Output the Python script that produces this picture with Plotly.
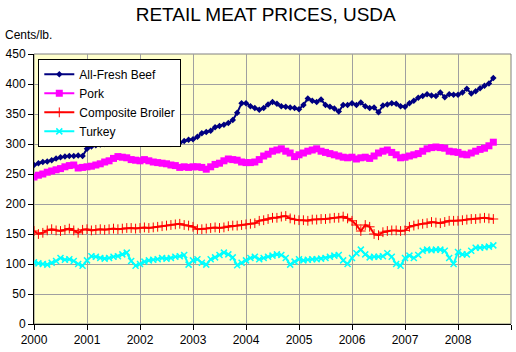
import plotly.graph_objects as go

start_year = 2000
n_months = 105  # Jan 2000 - Sep 2008

beef = [265, 268, 270, 271, 273, 276, 278, 279, 280, 280, 281, 280,
        292, 296, 298, 299, 300, 302, 303, 302, 303, 305, 304, 305,
        306, 305, 307, 309, 312, 310, 302, 300, 304, 302, 305, 307,
        308, 312, 318, 320, 322, 328, 330, 332, 335, 340, 352, 368,
        368, 363, 360, 357, 360, 366, 370, 367, 363, 362, 361, 360,
        358, 365, 376, 372, 370, 374, 365, 362, 359, 354, 365, 365,
        368, 365, 369, 363, 360, 361, 353, 364, 366, 368, 367, 363,
        362, 368, 372, 377, 380, 383, 381, 380, 386, 378, 383, 382,
        382, 386, 392, 384, 388, 393, 397, 401, 410]

pork = [245, 248, 250, 253, 255, 257, 259, 262, 264, 265, 260, 261,
        262, 263, 265, 267, 270, 272, 276, 279, 278, 277, 274, 273,
        272, 274, 272, 270, 269, 268, 267, 265, 264, 261, 262, 261,
        262, 262, 261, 258, 262, 266, 268, 272, 275, 274, 273, 270,
        269, 269, 270, 274, 280, 283, 288, 290, 292, 288, 285, 279,
        282, 285, 288, 290, 292, 288, 286, 284, 282, 280, 278, 277,
        278, 275, 277, 278, 276, 280, 285, 288, 290, 286, 282, 277,
        278, 280, 282, 284, 288, 292, 294, 295, 294, 293, 288, 287,
        286, 283, 282, 285, 288, 291, 293, 297, 303]

broiler = [155, 150, 152, 156, 158, 156, 155, 157, 159, 156, 152, 157,
           158, 156, 157, 158, 157, 158, 159, 158, 159, 160, 160, 159,
           160, 161, 160, 161, 162, 163, 164, 165, 166, 167, 165, 164,
           162, 158, 158, 159, 160, 161, 160, 161, 163, 164, 164, 165,
           166, 167, 168, 172, 173, 175, 177, 177, 179, 180, 176, 174,
           173, 173, 172, 174, 174, 175, 175, 176, 177, 177, 179, 176,
           172, 165, 155, 165, 162, 150, 148, 153, 155, 156, 156, 155,
           156, 162, 164, 166, 167, 168, 170, 169, 168, 170, 172, 172,
           172, 173, 174, 175, 175, 176, 177, 176, 175]

turkey = [103, 101, 100, 99, 102, 105, 110, 107, 108, 105, 100, 97,
          106, 113, 112, 110, 109, 110, 112, 113, 116, 119, 105, 97,
          100, 104, 106, 107, 108, 110, 109, 110, 112, 113, 115, 99,
          106, 108, 102, 99, 108, 111, 115, 119, 116, 111, 98, 102,
          106, 110, 112, 108, 110, 112, 114, 116, 115, 110, 99, 104,
          108, 106, 107, 108, 108, 109, 110, 112, 114, 115, 106, 100,
          110, 118, 124, 116, 111, 112, 112, 113, 118, 112, 100, 97,
          110, 114, 110, 115, 122, 124, 123, 124, 124, 122, 110, 100,
          120, 116, 116, 122, 127, 127, 128, 129, 131]

years = list(range(2000, 2010))
year_labels = [str(y) for y in range(2000, 2009)] + [""]

x = [start_year + i / 12 for i in range(n_months)]

fig = go.Figure()
fig.add_trace(go.Scatter(x=x, y=beef, name="All-Fresh Beef", mode="lines+markers",
                         line=dict(color="#000080", width=2),
                         marker=dict(symbol="diamond", size=5, color="#000080")))
fig.add_trace(go.Scatter(x=x, y=pork, name="Pork", mode="lines+markers",
                         line=dict(color="#FF00FF", width=2),
                         marker=dict(symbol="square", size=7, color="#FF00FF")))
fig.add_trace(go.Scatter(x=x, y=broiler, name="Composite Broiler", mode="lines+markers",
                         line=dict(color="#FF0000", width=2),
                         marker=dict(symbol="cross-thin", size=7, color="#FF0000",
                                     line=dict(color="#FF0000", width=1))))
fig.add_trace(go.Scatter(x=x, y=turkey, name="Turkey", mode="lines+markers",
                         line=dict(color="#00FFFF", width=2),
                         marker=dict(symbol="x-thin", size=6, color="#00FFFF",
                                     line=dict(color="#00FFFF", width=1.5))))

fig.update_layout(
    width=516, height=352,
    margin=dict(l=34, r=5, t=54, b=28),
    paper_bgcolor="white",
    plot_bgcolor="#FFFFCC",
    font=dict(family="Liberation Sans, Arial, sans-serif", size=12, color="black"),
    title=dict(text="RETAIL MEAT PRICES, USDA", x=0.515, xanchor="center",
               y=1 - 14 / 352, yanchor="middle", yref="container",
               font=dict(size=19, color="black")),
    showlegend=True,
    legend=dict(x=0.009, y=0.982, xanchor="left", yanchor="top",
                bgcolor="white", bordercolor="black", borderwidth=1,
                font=dict(size=12), itemwidth=30, tracegroupgap=0),
    xaxis=dict(range=[2000, 2009], tickvals=years, ticktext=year_labels,
               showgrid=True, gridcolor="#A0A0A0", gridwidth=1,
               showline=True, linecolor="black", linewidth=1,
               ticks="outside", ticklen=5, tickcolor="black", zeroline=False),
    yaxis=dict(range=[0, 450], dtick=50, tick0=0,
               showgrid=True, gridcolor="#A0A0A0", gridwidth=1,
               showline=True, linecolor="black", linewidth=1,
               ticks="outside", ticklen=5, tickcolor="black", zeroline=False),
    annotations=[dict(text="Cents/lb.", x=(3 - 34) / 477, y=(324 - 35) / 270,
                      xref="paper", yref="paper",
                      xanchor="left", yanchor="middle", showarrow=False,
                      font=dict(size=12, color="black"))],
)

fig.add_shape(type="rect", xref="x domain", yref="y domain", x0=0, x1=1, y0=0, y1=1,
              line=dict(color="#808080", width=1), layer="below")

fig.write_html("out.html")
